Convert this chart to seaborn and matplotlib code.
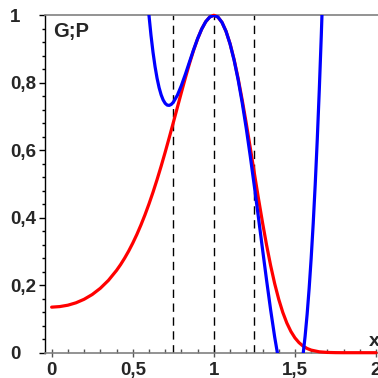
import matplotlib
matplotlib.use("Agg")
import matplotlib.pyplot as plt
import seaborn as sns
from matplotlib.ticker import MultipleLocator

sns.set_theme(style="white")
plt.rcParams['font.family'] = ['Liberation Sans', 'DejaVu Sans']
plt.rcParams['font.weight'] = 'bold'

# Red curve G
g_x = [0.0, 0.05, 0.1, 0.15, 0.2, 0.25, 0.3, 0.35, 0.4, 0.425, 0.45, 0.475,
       0.5, 0.525, 0.55, 0.575, 0.6, 0.625, 0.65, 0.675, 0.7, 0.725, 0.75,
       0.775, 0.8, 0.825, 0.85, 0.875, 0.9, 0.925, 0.95, 0.975, 1.0, 1.025,
       1.05, 1.075, 1.1, 1.125, 1.15, 1.175, 1.2, 1.225, 1.25, 1.275, 1.3,
       1.325, 1.35, 1.375, 1.4, 1.425, 1.45, 1.475, 1.5, 1.525, 1.55, 1.575,
       1.6, 1.65, 1.7, 1.75, 1.8, 1.9, 2.0]
g_y = [0.135, 0.1367, 0.1408, 0.1479, 0.1583, 0.1724, 0.1909, 0.2144, 0.2439,
       0.2611, 0.2803, 0.3014, 0.3247, 0.3501, 0.3780, 0.4081, 0.4408, 0.4758,
       0.5132, 0.5528, 0.5944, 0.6376, 0.6819, 0.7269, 0.7717, 0.8155, 0.8573,
       0.8960, 0.9303, 0.9592, 0.9812, 0.9951, 1.0, 0.9949, 0.9792, 0.9527,
       0.9156, 0.8684, 0.8122, 0.7484, 0.6790, 0.6058, 0.5311, 0.4571, 0.3859,
       0.3192, 0.2585, 0.2047, 0.1583, 0.1195, 0.0879, 0.0630, 0.0439, 0.0298,
       0.0196, 0.0125, 0.0077, 0.0026, 0.0008, 0.0002, 0.0, 0.0, 0.0]

# Blue curve P (runs off the top and below the axis)
p_x = [0.59, 0.6, 0.6125, 0.625, 0.6375, 0.65, 0.6625, 0.675, 0.6875, 0.7,
       0.7125, 0.725, 0.7375, 0.75, 0.775, 0.8, 0.825, 0.85, 0.875, 0.9,
       0.925, 0.95, 0.975, 1.0, 1.025, 1.05, 1.075, 1.1, 1.125, 1.15, 1.175,
       1.2, 1.225, 1.25, 1.275, 1.3, 1.325, 1.35, 1.375, 1.4, 1.45, 1.5,
       1.55, 1.5625, 1.575, 1.5875, 1.6, 1.6125, 1.625, 1.6375, 1.65, 1.6625,
       1.675]
p_y = [1.0543, 1.0, 0.9406, 0.8901, 0.8479, 0.8132, 0.7855, 0.7643, 0.7490,
       0.739, 0.7338, 0.733, 0.7359, 0.7422, 0.763, 0.792, 0.8260, 0.8622,
       0.8979, 0.931, 0.9593, 0.9812, 0.9951, 1.0, 0.9949, 0.9792, 0.9526,
       0.915, 0.8667, 0.8082, 0.7403, 0.664, 0.5808, 0.4922, 0.4002, 0.307,
       0.2151, 0.1272, 0.0464, -0.024, -0.1188, -0.125, -0.0058, 0.0483,
       0.1135, 0.1905, 0.28, 0.3826, 0.4995, 0.6311, 0.7782, 0.9418, 1.1224]

marks = [0.75, 1.0, 1.25]
x_ticks = [0, 0.5, 1, 1.5, 2]
x_labels = ["0", "0,5", "1", "1,5", "2"]
y_ticks = [0, 0.2, 0.4, 0.6, 0.8, 1.0]
y_labels = ["0", "0,2", "0,4", "0,6", "0,8", "1"]

fig = plt.figure(figsize=(3.78, 3.78), dpi=100)
ax = fig.add_axes([45/378, 1-352.7/378, 1-45/378, (352.7-15.3)/378])

for m in marks:
    ax.axvline(m, color='black', lw=1.0, ls=(0, (6, 4)), zorder=1)

sns.lineplot(x=g_x, y=g_y, ax=ax, color='#ff0000', lw=2.3, estimator=None,
             sort=False, clip_on=False, zorder=3)
sns.lineplot(x=p_x, y=p_y, ax=ax, color='#0000ff', lw=2.3, estimator=None,
             sort=False, zorder=4)

ax.set_xlim(-0.041, 2.012)
ax.set_ylim(0, 1)

ax.spines['right'].set_visible(False)
ax.spines['left'].set_color('black')
ax.spines['left'].set_linewidth(1.0)
ax.spines['top'].set_color('#808080')
ax.spines['top'].set_linewidth(1.2)
ax.spines['bottom'].set_color('#808080')
ax.spines['bottom'].set_linewidth(1.2)

ax.set_xticks(x_ticks)
ax.set_xticklabels(x_labels, fontsize=13.5, fontweight='bold')
ax.set_yticks(y_ticks)
ax.set_yticklabels(y_labels, fontsize=13.5, fontweight='bold')
ax.xaxis.set_minor_locator(MultipleLocator(0.1))
ax.yaxis.set_minor_locator(MultipleLocator(0.04))

ax.tick_params(axis='x', which='major', direction='inout', length=6, width=1,
               color='#555555', pad=4, bottom=True, top=False)
ax.tick_params(axis='x', which='minor', direction='in', length=3, width=1,
               color='#555555', bottom=True, top=False)
ax.tick_params(axis='y', which='major', direction='out', length=4, width=1,
               color='black', pad=21.2, left=True, right=False)
ax.tick_params(axis='y', which='minor', direction='out', length=2.5, width=1,
               color='black', left=True, right=False)
for lab in ax.get_yticklabels():
    lab.set_horizontalalignment('left')

ax.grid(False)
ax.set_facecolor('white')

fig.text(374/378, 1-341/378, 'x', ha='center', va='center', fontsize=14,
         fontweight='bold')
fig.text(53/378, 1-22/378, 'G;P', ha='left', va='top', fontsize=14.5,
         fontweight='bold')

fig.savefig('out.png', dpi=100)
